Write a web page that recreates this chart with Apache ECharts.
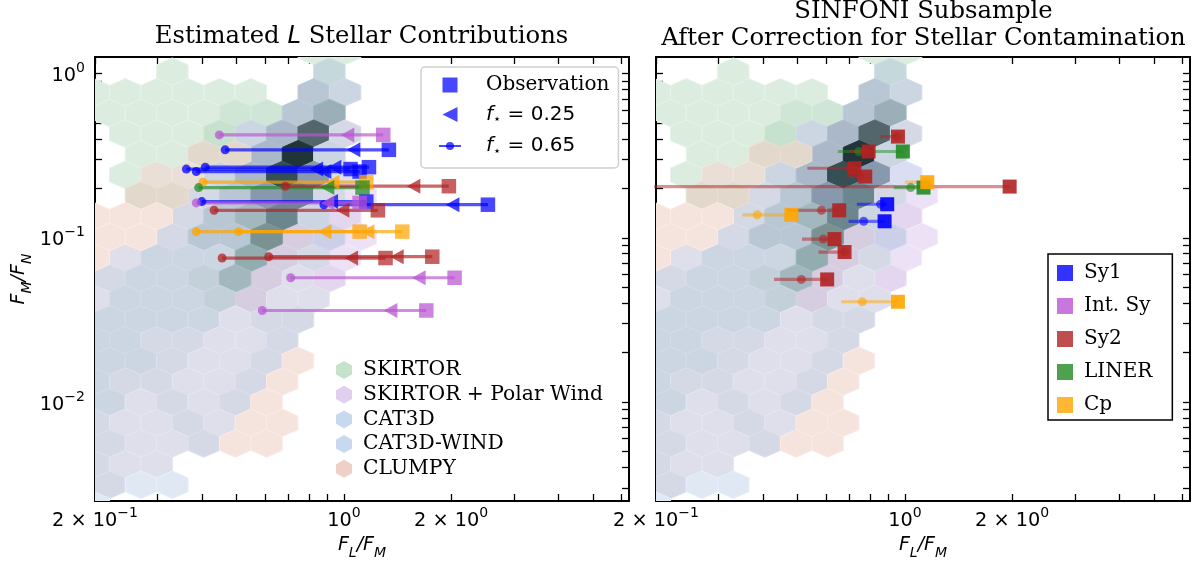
<!DOCTYPE html>
<html><head><meta charset="utf-8">
<style>html,body{margin:0;padding:0;background:#fff}#c{width:1200px;height:564px}</style>
<script src="https://cdn.jsdelivr.net/npm/echarts@6/dist/echarts.min.js"></script>
</head><body><div id="c"></div>
<script>
// ---- hexbin cells [column, row, density level]
const skirtorCells=[[14,-1,1],[16,-1,1],[5,0,1],[15,0,4],[0,1,1],[2,1,1],[4,1,1],[6,1,1],[8,1,1],[10,1,1],[1,2,1],[3,2,1],[5,2,1],[7,2,1],[9,2,2],[11,2,2],[2,3,1],[4,3,1],[6,3,1],[8,3,3],[3,4,1],[5,4,1],[2,5,1]];
const polarCells=[[17,6,1],[16,7,2],[17,8,1],[16,9,1],[15,10,2],[13,8,3],[12,9,3],[11,10,3],[10,11,3]];
const cat3dCells=[[14,1,5],[16,1,3],[13,2,5],[15,2,8],[10,3,3],[12,3,6],[14,3,13],[16,3,2],[11,4,6],[13,4,15],[15,4,3],[8,5,3],[10,5,6],[12,5,14],[14,5,10],[7,6,2],[9,6,5],[11,6,10],[13,6,12],[15,6,2],[6,7,2],[8,7,5],[10,7,7],[12,7,12],[14,7,3],[5,8,2],[7,8,5],[9,8,5],[11,8,11],[2,9,1],[4,9,3],[6,9,3],[8,9,3],[10,9,9],[14,9,2],[1,10,2],[3,10,3],[5,10,3],[7,10,4],[9,10,7],[13,10,1],[0,11,1],[2,11,3],[4,11,3],[6,11,3],[8,11,4],[12,11,1],[14,11,1],[1,12,3],[3,12,3],[5,12,3],[7,12,3],[9,12,1],[11,12,2],[13,12,2],[0,13,3],[2,13,3],[4,13,2],[6,13,2],[8,13,1],[10,13,1],[12,13,2],[1,14,3],[3,14,3],[5,14,2],[7,14,1],[9,14,1],[11,14,2],[0,15,3],[2,15,2],[4,15,2],[6,15,1],[8,15,1],[10,15,2],[1,16,3],[3,16,1],[5,16,2],[7,16,1],[9,16,2],[0,17,2],[2,17,1],[4,17,1],[6,17,2],[8,17,1],[1,18,2],[3,18,1],[5,18,1],[7,18,2],[0,19,2],[2,19,1],[4,19,1],[1,20,2]];
const windCells=[[16,5,2],[15,8,3],[3,20,1],[5,20,1],[0,21,1]];
const clumpyCells=[[7,4,3],[9,4,3],[4,5,2],[6,5,2],[3,6,3],[5,6,3],[0,7,1],[2,7,1],[4,7,1],[1,8,1],[3,8,1],[0,9,1],[13,14,1],[12,15,1],[11,16,1],[10,17,1],[12,17,1],[9,18,1],[11,18,1]];

// ---- left panel: observed ratios and stellar-corrected ratios
const leftClass=['Int','Sy1','Sy1','Sy1','Sy1','Cp','LINER','Sy2','Sy1','Sy1','Int','Sy2','Cp','Cp','Sy2','Sy2','Int','Int'];
const leftRatioY=[0.423,0.343,0.262,0.253,0.269,0.218,0.202,0.206,0.159,0.166,0.163,0.147,0.109,0.109,0.0753,0.0767,0.0571,0.0361];
const leftObsX=[1.29,1.338,1.044,1.107,1.176,1.156,1.128,1.972,2.538,1.156,1.107,1.246,1.107,1.459,1.309,1.771,2.046,1.704];
const leftF25X=[1.024,1.065,0.837,0.883,0.942,0.93,0.9,1.57,2.02,0.922,0.9,0.992,0.883,1.166,1.049,1.409,1.624,1.353];
const leftF65X=[0.447,0.464,0.361,0.385,0.408,0.402,0.391,0.685,0.879,0.399,0.385,0.432,0.385,0.506,0.455,0.615,0.709,0.59];

// ---- right panel: SINFONI subsample
const rightClass=['Sy2','LINER','Sy2','Sy2','Sy2','Sy2','LINER','Cp','Sy1','Sy1','Cp','Sy2','Sy2','Sy2','Sy2','Cp'];
const rightRatioY=[0.413,0.335,0.335,0.265,0.236,0.205,0.202,0.218,0.16,0.126,0.138,0.147,0.0982,0.0819,0.0558,0.0408];
const rightObsX=[0.956,0.987,0.791,0.722,0.774,1.969,1.128,1.156,0.892,0.877,0.48,0.654,0.634,0.677,0.605,0.956];
const rightMidX=[0.95,0.743,0.77,0.699,0.749,0.19,1.038,1.143,0.855,0.766,0.385,0.583,0.59,0.677,0.512,0.759];
const rightEndX=[0.849,0.648,0.699,0.532,0.685,0.15,0.931,1.0,0.733,0.695,0.35,0.469,0.514,0.572,0.429,0.663];

// ---- ticks
const xTickValues=[0.2,0.3,0.4,0.5,0.6,0.7,0.8,0.9,1,2,3,4,5,6];
const xLabelValues=[0.2,1,2];
const yTickValues=[0.003,0.004,0.005,0.006,0.007,0.008,0.009,0.01,0.02,0.03,0.04,0.05,0.06,0.07,0.08,0.09,0.1,0.2,0.3,0.4,0.5,0.6,0.7,0.8,0.9,1];
const yLabelValues=[0.01,0.1,1];
const classNames=['Sy1','Int. Sy','Sy2','LINER','Cp'];
const hexNames=['SKIRTOR','SKIRTOR + Polar Wind','CAT3D','CAT3D-WIND','CLUMPY'];

// ---- styles
const SERIF='"DejaVu Serif"', SANS='"DejaVu Sans"';
const classColor={Sy1:'#0000ff',Int:'#ba55d3',Sy2:'#b22222',LINER:'#228b22',Cp:'#ffa500'};
const ramps={
 green:['#DCEDE0','#CFE6D6','#C6E2CE','#C5D9DC'],
 polar:['#EDE2F5','#E4D6EE','#D6CEE0'],
 cat3d:['#DEDFEA','#D5D9E6','#CCD5E2','#C3D0DA','#B9C6D4','#ABB8CA','#A3B7BF','#9AAFB8','#93ACB0','#8899AD','#7A9292','#6C868F','#53666B','#345055','#1F3538'],
 wind:['#DFE8F3','#DADEF2','#CBD0E8'],
 clumpy:['#F5E3DE','#EADFD6','#E3D8CC']
};
const legendHex={green:'#C5E3CC',polar:'#E2CFEE',cat3d:'#C8D8EE',wind:'#C8D8EE',clumpy:'#EED0C6'};
// hex lattice in decades of the log axes
const LX0=-0.7022, LDX=0.0441, LY0=0.0109, LDY=0.12571;
const hexPath='path://M8,0L16,4.6V13.4L8,18L0,13.4V4.6Z';
const squarePath='path://M0,0H10V10H0Z';
const trianglePath='path://M0,5L10,0V10Z';
const smallCirclePath='path://M0,0L0,0M12,12L12,12M10,6A4,4,0,1,1,2,6A4,4,0,1,1,10,6Z';

function hexData(cells){return cells.map(c=>[Math.pow(10,LX0+LDX*c[0]),Math.pow(10,LY0-LDY*c[1]),c[2]]);}
function hexRender(ramp){return function(params,api){
  const x=Math.log10(api.value(0)),y=Math.log10(api.value(1));
  const hx=LDX,hy=LDY*2/3;
  const pts=[[x,y+hy],[x+hx,y+hy/2],[x+hx,y-hy/2],[x,y-hy],[x-hx,y-hy/2],[x-hx,y+hy/2]]
    .map(p=>api.coord([Math.pow(10,p[0]),Math.pow(10,p[1])]));
  const fill=ramp[api.value(2)-1];
  return {type:'polygon',shape:{points:pts},style:{fill:fill,stroke:echarts.color.lift(fill,-0.035),lineWidth:1}};
};}
const series=[];
const fams=[['SKIRTOR',skirtorCells,'green'],['SKIRTOR + Polar Wind',polarCells,'polar'],['CAT3D',cat3dCells,'cat3d'],['CAT3D-WIND',windCells,'wind'],['CLUMPY',clumpyCells,'clumpy']];
[0,1].forEach(p=>fams.forEach(f=>series.push({
  type:'custom',name:p?f[0]+' (right)':f[0],xAxisIndex:p*2,yAxisIndex:p*2,clip:true,silent:true,
  renderItem:hexRender(ramps[f[2]]),data:hexData(f[1]),encode:{x:0,y:1},z:1,
  itemStyle:{color:legendHex[f[2]]},animation:false})));

function lineSeries(name,cls,pts,p,lineOp){
  const col=classColor[cls];
  return {type:'line',name:name,xAxisIndex:p*2,yAxisIndex:p*2,z:3,animation:false,silent:true,clip:true,
    data:pts,lineStyle:{color:col,width:3.2,opacity:lineOp},itemStyle:{color:col}};
}
const pt=(x,y,s,sz,rot,op)=>({value:[x,y],symbol:s,symbolSize:sz,symbolRotate:rot||0,itemStyle:{opacity:op}});
leftClass.forEach((c,i)=>{const y=leftRatioY[i];series.push(lineSeries('L'+i,c,[pt(leftF65X[i],y,'circle',9,0,0.75),pt(leftF25X[i],y,'triangle',[15,13.5],90,0.75),pt(leftObsX[i],y,'rect',14.5,0,0.72)],0,0.68));});
rightClass.forEach((c,i)=>{const y=rightRatioY[i];series.push(lineSeries('R'+i,c,[pt(rightEndX[i],y,'none',1,0,0),pt(rightMidX[i],y,'circle',9,0,0.6),pt(rightObsX[i],y,'rect',14,0,0.9)],1,0.5));});

// series that only feed the legends
const dummy=(name,type,extra)=>Object.assign({type:type,name:name,data:[],xAxisIndex:0,yAxisIndex:0,animation:false},extra);
series.push(dummy('Observation','scatter',{itemStyle:{color:'#0000ff',opacity:0.72}}));
series.push(dummy('fA','scatter',{itemStyle:{color:'#0000ff',opacity:0.72}}));
series.push(dummy('fB','line',{symbol:smallCirclePath,symbolSize:8,lineStyle:{color:'#0000ff',width:3,opacity:0.72},itemStyle:{color:'#0000ff',opacity:0.72}}));
const classKeys=['Sy1','Int','Sy2','LINER','Cp'];
classNames.forEach((n,i)=>series.push(dummy(n,'scatter',{itemStyle:{color:classColor[classKeys[i]]}})));

const sup=(v)=>{
  if(v===0.2) return '{b|2 × 10}{s|−1}';
  if(v===2) return '{b|2 × 10}{s|0}';
  if(v===1) return '{b|10}{s|0}';
  if(v===0.1) return '{b|10}{s|−1}';
  if(v===0.01) return '{b|10}{s|−2}';
  return '';
};
const tickRich={b:{fontFamily:SANS,fontSize:19.3,color:'#000',lineHeight:24,verticalAlign:'bottom'},s:{fontFamily:SANS,fontSize:14,color:'#000',lineHeight:24,verticalAlign:'top'}};
const axisLine={show:true,onZero:false,lineStyle:{color:'#000',width:2}};
const tick=(vals)=>({show:true,inside:true,length:7,lineStyle:{color:'#000',width:1.3},customValues:vals});
function xAx(grid,pos,labels,name){return {type:'log',logBase:10,gridIndex:grid,position:pos,min:0.2,max:6.32,
  axisLine:axisLine,axisTick:tick(xTickValues),minorTick:{show:false},splitLine:{show:false},
  axisLabel:labels?{show:true,customValues:xLabelValues,formatter:sup,rich:tickRich,margin:5,showMinLabel:true,showMaxLabel:true,hideOverlap:false}:{show:false},
  name:name,nameLocation:'middle',nameGap:35,nameTextStyle:{rich:nameRich}};}
function yAx(grid,pos,labels,name){return {type:'log',logBase:10,gridIndex:grid,position:pos,min:0.0025,max:1.26,
  axisLine:axisLine,axisTick:tick(yTickValues),minorTick:{show:false},splitLine:{show:false},
  axisLabel:labels?{show:true,customValues:yLabelValues,formatter:sup,rich:tickRich,margin:10}:{show:false},
  name:name,nameLocation:'middle',nameGap:61,nameRotate:90,nameTextStyle:{rich:nameRich}};}
const nameRich={i:{fontFamily:SANS,fontStyle:'italic',fontSize:19,color:'#000',lineHeight:24,verticalAlign:'top'},u:{fontFamily:SANS,fontStyle:'italic',fontSize:14,color:'#000',lineHeight:24,verticalAlign:'bottom'}};
const FLFM='{i|F}{u|L}{i|/F}{u|M}', FMFN='{i|F}{u|M}{i|/F}{u|N}';

const legendFormat=n=>{
  if(n==='Observation') return '{p|}{t|Observation}';
  if(n==='fA') return '{p|}{i|f}{st|⋆}{m| = 0.25}';
  return '{p|}{i|f}{st|⋆}{m| = 0.65}';
};
const opt={
  animation:false,backgroundColor:'#fff',
  title:[
   {text:'Estimated {i|L} Stellar Contributions',left:356.5,top:20,textAlign:'center',
    textStyle:{fontFamily:SERIF,fontWeight:'normal',fontSize:24.3,color:'#000',rich:{i:{fontFamily:SANS,fontStyle:'italic',fontSize:24.3,color:'#000'}}}},
   {text:'SINFONI Subsample\nAfter Correction for Stellar Contamination',left:918.5,top:-7,textAlign:'center',
    textStyle:{fontFamily:SERIF,fontWeight:'normal',fontSize:24.3,color:'#000',lineHeight:27}}
  ],
  grid:[{left:95,top:57,width:534,height:444,outerBoundsMode:'none'},{left:656,top:57,width:534,height:444,outerBoundsMode:'none'}],
  xAxis:[xAx(0,'bottom',true,FLFM),xAx(0,'top',false,''),xAx(1,'bottom',true,FLFM),xAx(1,'top',false,'')],
  yAxis:[yAx(0,'left',true,FMFN),yAx(0,'right',false,''),yAx(1,'left',false,''),yAx(1,'right',false,'')],
  legend:[
   {left:421,top:67,orient:'vertical',itemWidth:22,itemHeight:15,itemGap:9.5,padding:[8,9,10,17],selectedMode:false,
    backgroundColor:'rgba(255,255,255,0.8)',borderColor:'#d0d0d0',borderWidth:1.5,borderRadius:4,
    data:[{name:'Observation',icon:squarePath},{name:'fA',icon:trianglePath},{name:'fB'}],
    formatter:legendFormat,
    textStyle:{rich:{p:{width:20},t:{fontFamily:SERIF,fontSize:20,color:'#000',lineHeight:24},i:{fontFamily:SANS,fontStyle:'italic',fontSize:20,color:'#000',lineHeight:24},st:{fontFamily:SANS,fontSize:13,color:'#000',verticalAlign:'bottom',lineHeight:24},m:{fontFamily:SANS,fontSize:20,color:'#000',lineHeight:24}}}},
   {left:336,top:360,orient:'vertical',itemWidth:16,itemHeight:18,itemGap:4.7,padding:0,selectedMode:false,
    data:hexNames.map((n,i)=>({name:n,icon:hexPath,itemStyle:{color:legendHex[['green','polar','cat3d','wind','clumpy'][i]]}})),
    textStyle:{fontFamily:SERIF,fontSize:20.3,color:'#000',padding:[0,0,0,6]}},
   {left:1048,top:254,orient:'vertical',itemWidth:16,itemHeight:16,itemGap:13,padding:[9,20,5,9],selectedMode:false,
    backgroundColor:'#fff',borderColor:'#000',borderWidth:1.5,borderRadius:0,
    data:classNames.map(n=>({name:n,icon:squarePath})),
    textStyle:{fontFamily:SERIF,fontSize:20,color:'#000',padding:[0,0,0,6]}}
  ],
  series:series
};
const chart=echarts.init(document.getElementById('c'),null,{renderer:'canvas'});
chart.setOption(opt);
</script></body></html>
